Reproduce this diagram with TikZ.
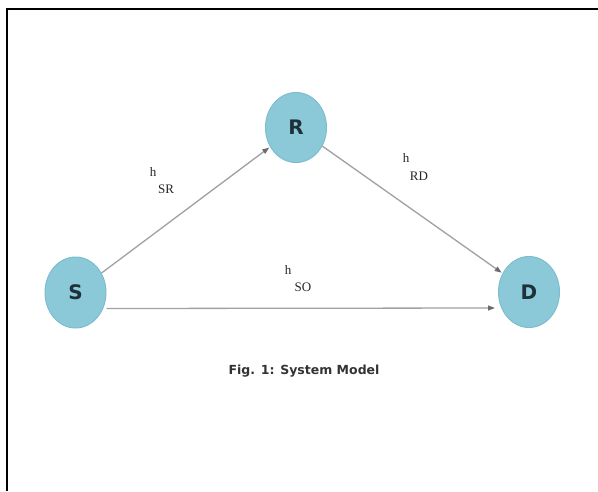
\documentclass[tikz,border=0pt]{standalone}
\usepackage{fontspec}
\setmainfont{Liberation Serif}
\newfontfamily\nodefont{DejaVu Sans}
\usetikzlibrary{shapes.geometric,arrows.meta}
\definecolor{nodefill}{RGB}{140,201,216}
\definecolor{nodeedge}{RGB}{125,190,206}
\definecolor{nodetext}{RGB}{30,48,58}
\definecolor{linkgray}{RGB}{160,160,165}
\definecolor{tipgray}{RGB}{110,105,115}
\tikzset{
  station/.style={ellipse, draw=nodeedge, line width=1pt, fill=nodefill,
    minimum width=61pt, minimum height=71pt, inner sep=0pt,
    text=nodetext, font=\nodefont\bfseries\fontsize{20}{22}\selectfont},
  link/.style={draw=linkgray, line width=1.3pt,
    -{Triangle[length=7pt,width=5pt,fill=tipgray,color=tipgray]}},
  chan/.style={font=\fontsize{13}{14}\selectfont, text=black!85, inner sep=0pt}
}
\begin{document}
\begin{tikzpicture}[x=1pt,y=-1pt]
\useasboundingbox (0,0) rectangle (598,491);
\fill[white] (0,0) rectangle (598,491);
\draw[line width=2pt, black] (6.5,491) -- (6.5,8.5) -- (598,8.5);
\node[station] (S) at (75.5,292.5) {S};
\node[station, minimum height=70pt] (R) at (296,127.5) {R};
\node[station] (D) at (529,292) {D};
\draw[link, shorten >=1pt] (S) -- (R);
\draw[link, shorten >=1pt] (R) -- (D);
\draw[link] ([yshift=-16pt]S.east) -- ([yshift=-16pt,xshift=-3pt]D.west);
\node[chan] (hsr) at (153,172) {h};
\node[chan] (sr) at (166,189) {SR};
\node[chan] (hrd) at (406,158) {h};
\node[chan] (rd) at (419,176) {RD};
\node[chan] (hso) at (288,270) {h};
\node[chan] (so) at (303,287) {SO};
\node[font=\nodefont\bfseries\fontsize{12.5}{14}\selectfont, text=black!80] (cap) at (304,371) {Fig. 1: System Model};
\end{tikzpicture}
\end{document}
